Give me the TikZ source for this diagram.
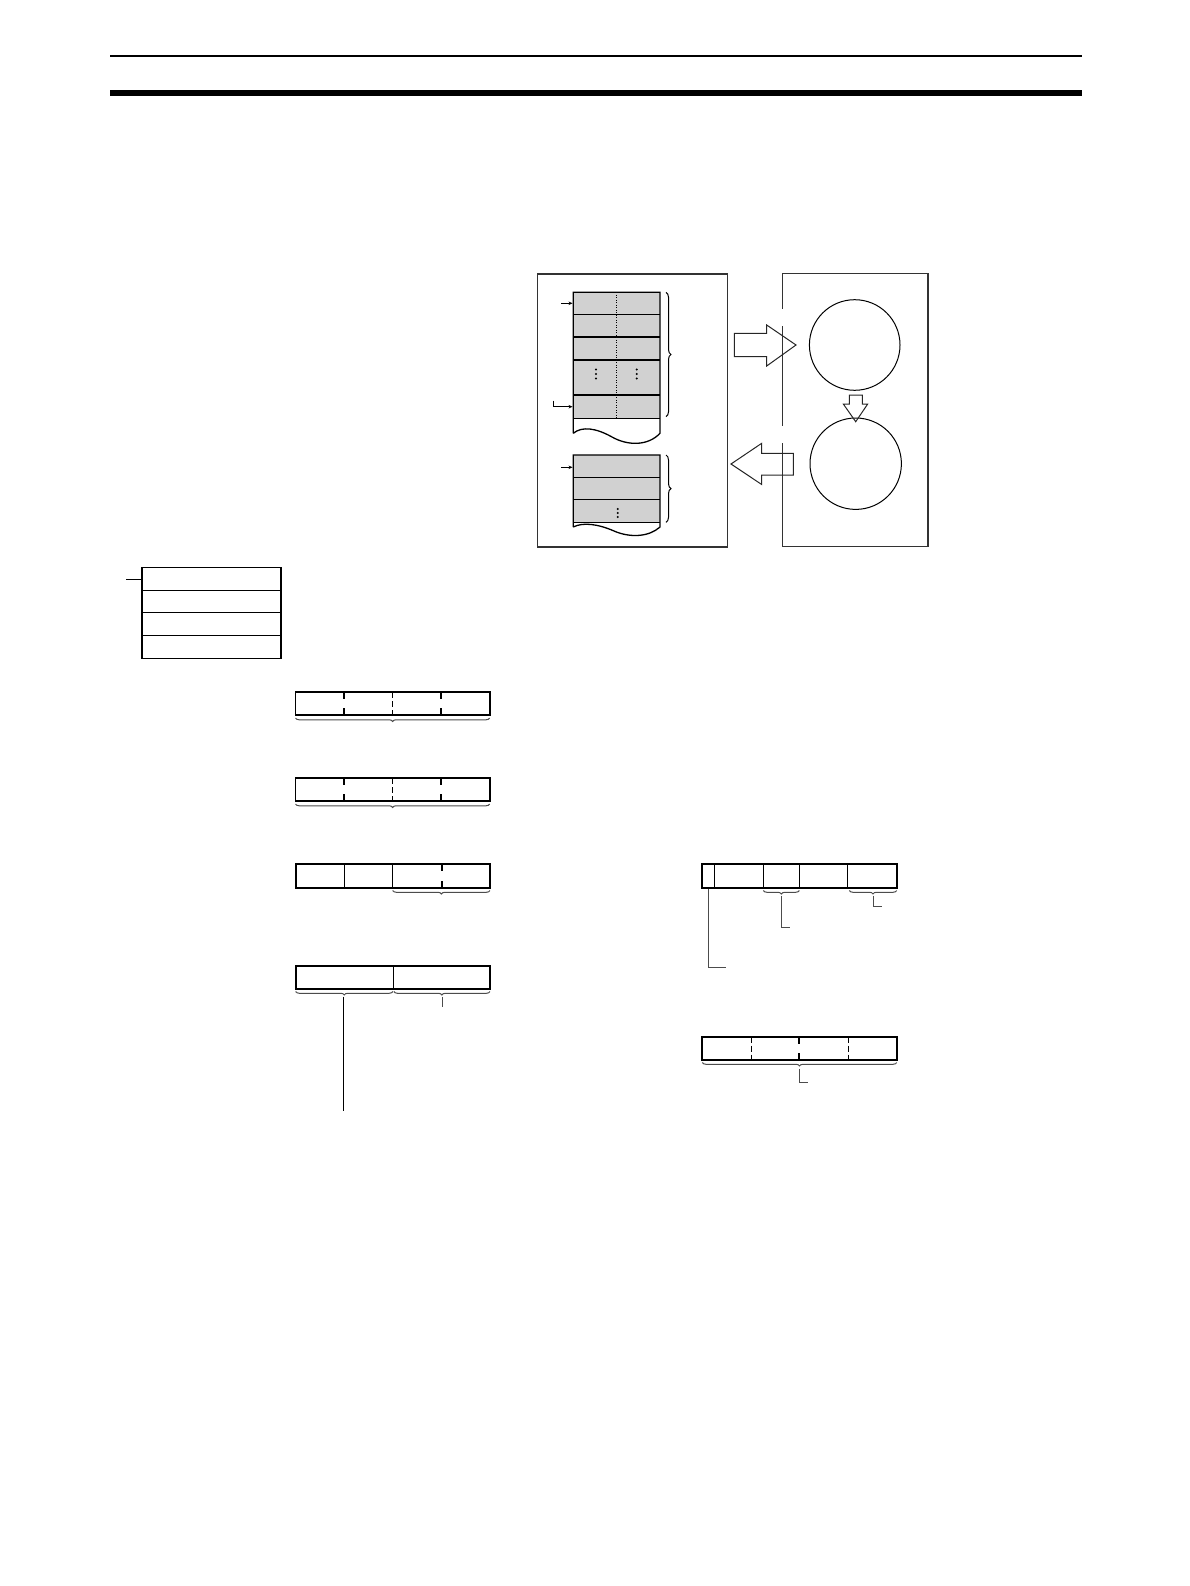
\documentclass[tikz,border=0pt]{standalone}
\usetikzlibrary{decorations.pathreplacing,arrows.meta}
\newcommand{\ticksplit}[3]{\draw[tick] (#1,#2) -- ++(0,7); \draw[tick] (#1,#3) -- ++(0,-7);}
\begin{document}
\begin{tikzpicture}[x=1pt,y=-1pt,line width=1pt,
  frame/.style={line width=1.3pt,draw=black!80},
  regbox/.style={line width=1.8pt,draw=black},
  celline/.style={line width=1.3pt,draw=black},
  tick/.style={line width=2.2pt},
  thindash/.style={line width=0.8pt,dash pattern=on 6pt off 3pt},
  brc/.style={decorate,decoration={brace,mirror,amplitude=3.5pt},line width=1pt,draw=black!70},
  rbrc/.style={decorate,decoration={brace,amplitude=5pt},line width=1pt,draw=black},
  leader/.style={line width=1pt,draw=black!70},
  mem/.style={fill=black!18},
  ptr/.style={line width=1pt,-{Stealth[length=4pt,width=3.5pt]}},
  blockarrow/.style={line width=1pt,draw=black!85},
  memdot/.style={fill=black}]
\useasboundingbox (0,0) rectangle (1190,1586);

% header rules
\draw[line width=1.8pt] (110,55.8) -- (1081.7,55.8);
\fill (110,90) rectangle (1081.7,95.7);

% ===== top-right diagram =====
\draw[frame] (537.3,274) rectangle (727.3,547);
\draw[frame] (782.3,273.3) -- (928,273.3) -- (928,546.5) -- (782.3,546.5);
\draw[frame] (782.3,273.3) -- (782.3,309.3);
\draw[frame] (782.3,326) -- (782.3,426);
\draw[frame] (782.3,443.3) -- (782.3,546.5);

% memory block 1
\fill[mem] (573.3,292.3) rectangle (660,418.3);
\draw[celline] (573.3,433.3) -- (573.3,292.3) -- (660,292.3) -- (660,433.3)
  .. controls (648,446) and (628,446) .. (612,437)
  .. controls (596,428) and (582,426) .. (573.3,433.3);
\foreach \y in {314.3,337,360,395,418.3} \draw[celline] (573.3,\y) -- (660,\y);
\draw[line width=0.8pt,dash pattern=on 1pt off 1.5pt] (616.7,292.3) -- (616.7,418.3);
\foreach \x in {596,636.7} \foreach \y in {369.5,374,378.5} \fill[memdot] (\x,\y) circle[radius=1.1pt];
\draw[ptr] (561,303.3) -- (572.5,303.3);
\draw[ptr] (553.3,400.5) -- (553.3,406.7) -- (572.5,406.7);
\draw[rbrc] (666,292.3) -- (666,416.7);

% memory block 2
\fill[mem] (573.3,455) rectangle (660,522.3);
\draw[celline] (573.3,527) -- (573.3,455) -- (660,455) -- (660,527)
  .. controls (649,537) and (630,538) .. (614,531)
  .. controls (598,524) and (583,522) .. (573.3,527);
\foreach \y in {477.3,499.3,522.3} \draw[celline] (573.3,\y) -- (660,\y);
\foreach \y in {509,513,517} \fill[memdot] (617.7,\y) circle[radius=1.1pt];
\draw[ptr] (561,467.3) -- (572.5,467.3);
\draw[rbrc] (666,455) -- (666,522.3);

% block arrows
\draw[blockarrow] (734.3,333.3) -- (766.7,333.3) -- (766.7,325) -- (796,345) -- (766.7,366) -- (766.7,356.7) -- (734.3,356.7) -- cycle;
\draw[blockarrow] (731,464) -- (761.7,443.3) -- (761.7,453.3) -- (793.3,453.3) -- (793.3,475) -- (761.7,475) -- (761.7,484.5) -- cycle;

% circles
\draw[line width=1pt] (854.7,345) circle[radius=45.3pt];
\draw[line width=1pt] (855.7,463.7) circle[radius=45.7pt];
\draw[blockarrow] (849.3,395) -- (862.3,395) -- (862.3,404) -- (867.7,404) -- (855.7,421.7) -- (843.3,404) -- (849.3,404) -- cycle;

% ===== top-left stack =====
\draw[regbox,line width=1.5pt] (142,567.7) rectangle (281,658.3);
\foreach \y in {590.7,612.3,635.7} \draw[celline] (142,\y) -- (281,\y);
\draw[line width=1pt] (126,579.3) -- (142,579.3);

% ===== register 1 =====
\draw[regbox] (295.5,692.3) rectangle (489.7,715);
\ticksplit{343.7}{692.3}{715}
\ticksplit{440.7}{692.3}{715}
\draw[thindash] (392.3,692.3) -- (392.3,715);
\draw[brc] (295.5,718) -- (489.7,718);

% ===== register 2 =====
\draw[regbox] (295.5,778.3) rectangle (489.7,801);
\ticksplit{343.7}{778.3}{801}
\ticksplit{440.7}{778.3}{801}
\draw[thindash] (392.3,778.3) -- (392.3,801);
\draw[brc] (295.5,804) -- (489.7,804);

% ===== register 3 =====
\draw[regbox] (295.7,864.3) rectangle (490,887.7);
\draw[celline] (344.3,864.3) -- (344.3,887.7);
\draw[celline] (392.7,864.3) -- (392.7,887.7);
\ticksplit{441.7}{864.3}{887.7}
\draw[brc] (392.7,890.5) -- (490,890.5);

% ===== register 4 =====
\draw[regbox] (295.7,966) rectangle (490,989.3);
\draw[celline] (393.3,966) -- (393.3,989.3);
\draw[brc] (295.7,991.5) -- (392.8,991.5);
\draw[brc] (393.8,991.5) -- (490,991.5);
\draw[line width=1.2pt] (343.3,996.5) -- (343.3,1111);
\draw[leader] (442.3,996.5) -- (442.3,1006.7);

% ===== register A (right) =====
\draw[regbox] (702.3,864.3) rectangle (896.7,887.7);
\foreach \x in {714.3,763.3,799.3,847.3} \draw[celline,line width=1.6pt] (\x,864.3) -- (\x,887.7);
\draw[brc] (763.3,890.5) -- (799.3,890.5);
\draw[leader] (781.3,895.5) -- (781.3,927.7) -- (790,927.7);
\draw[brc] (849.3,890.5) -- (896.7,890.5);
\draw[leader] (873,895.5) -- (873,906) -- (882.3,906);
\draw[leader] (708.3,888.5) -- (708.3,967.7) -- (725.7,967.7);

% ===== register B (right) =====
\draw[regbox] (702.3,1036.7) rectangle (896.7,1060);
\draw[thindash] (751,1036.7) -- (751,1060);
\draw[thindash] (848.3,1036.7) -- (848.3,1060);
\ticksplit{799}{1036.7}{1060}
\draw[brc] (702.3,1062.5) -- (896.7,1062.5);
\draw[leader] (799.5,1068.5) -- (799.5,1082.3) -- (808.3,1082.3);

\end{tikzpicture}
\end{document}
